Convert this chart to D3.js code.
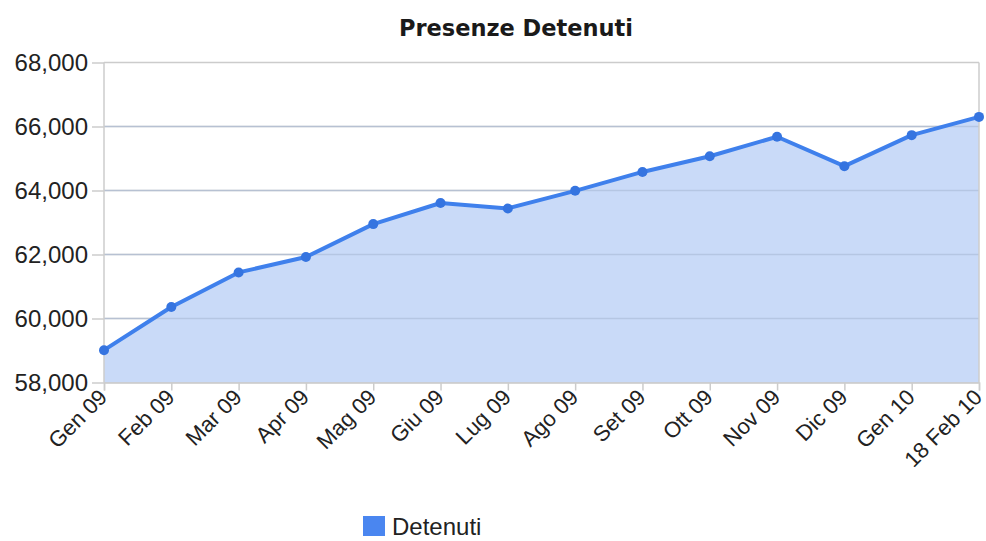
<!DOCTYPE html>
<html>
<head>
<meta charset="utf-8">
<script src="https://cdn.jsdelivr.net/npm/d3@7"></script>
<style>
  body { margin: 0; background: #fff; }
  text { font-family: "Liberation Sans", Arial, sans-serif; }
</style>
</head>
<body>
<div id="chart"></div>
<script>
// dati
const mesi = ["Gen 09", "Feb 09", "Mar 09", "Apr 09", "Mag 09", "Giu 09", "Lug 09",
              "Ago 09", "Set 09", "Ott 09", "Nov 09", "Dic 09", "Gen 10", "18 Feb 10"];
const detenuti = [59010, 60360, 61440, 61920, 62950, 63610, 63440,
                  63990, 64580, 65070, 65680, 64760, 65730, 66300];
const yTicks = [58000, 60000, 62000, 64000, 66000, 68000];

let width = 986;
let height = 541;
let margin = { left: 104, right: 7, top: 62.5, bottom: 158.5 };

let svg = d3.select("#chart")
    .append("svg")
    .attr("width", width)
    .attr("height", height);

let x = d3.scalePoint()
    .domain(mesi)
    .range([margin.left, width - margin.right]);

let y = d3.scaleLinear()
    .domain([58000, 68000])
    .range([height - margin.bottom, margin.top]);

// titolo
svg.append("text")
    .attr("x", 516)
    .attr("y", 36)
    .attr("text-anchor", "middle")
    .style("font-family", "'DejaVu Sans', sans-serif")
    .style("font-weight", "bold")
    .style("font-size", "22.5px")
    .attr("fill", "#1a1a1a")
    .text("Presenze Detenuti");

// griglia orizzontale
svg.append("g")
    .selectAll("line")
    .data(yTicks)
    .enter()
    .append("line")
    .attr("x1", margin.left)
    .attr("x2", width - margin.right)
    .attr("y1", d => y(d))
    .attr("y2", d => y(d))
    .attr("stroke", "#cccccc")
    .attr("stroke-width", 1.5);

// area
let area = d3.area()
    .x((d, i) => x(mesi[i]))
    .y0(y(58000))
    .y1(d => y(d));

svg.append("path")
    .datum(detenuti)
    .attr("d", area)
    .attr("fill", "#c9daf8");

// griglia sopra l'area
svg.append("g")
    .selectAll("line")
    .data(yTicks.slice(1, -1))
    .enter()
    .append("line")
    .attr("x1", margin.left)
    .attr("x2", width - margin.right)
    .attr("y1", d => y(d))
    .attr("y2", d => y(d))
    .attr("stroke", "#a9b9d6")
    .attr("stroke-opacity", 0.6)
    .attr("stroke-width", 1.5);

// bordi verticali
svg.append("line")
    .attr("x1", margin.left).attr("x2", margin.left)
    .attr("y1", margin.top).attr("y2", height - margin.bottom)
    .attr("stroke", "#cccccc").attr("stroke-width", 1.5);
svg.append("line")
    .attr("x1", width - margin.right).attr("x2", width - margin.right)
    .attr("y1", margin.top).attr("y2", height - margin.bottom)
    .attr("stroke", "#cccccc").attr("stroke-width", 1.5);

// asse y
let yAxis = svg.append("g")
    .attr("transform", "translate(" + margin.left + ",0)")
    .call(d3.axisLeft(y).tickValues(yTicks).tickSize(12).tickFormat(d3.format(",")));
yAxis.select(".domain").remove();
yAxis.selectAll("line").attr("stroke", "#cccccc").attr("stroke-width", 1.5);
yAxis.selectAll("text")
    .attr("x", -16)
    .attr("dy", "0.35em")
    .style("font-size", "24px")
    .attr("fill", "#222");

// asse x
let xAxis = svg.append("g")
    .attr("transform", "translate(0," + y(58000) + ")")
    .call(d3.axisBottom(x).tickSize(8));
xAxis.select(".domain").attr("stroke", "#cccccc").attr("stroke-width", 1.5);
xAxis.selectAll("line").attr("stroke", "#cccccc").attr("stroke-width", 1.5);
xAxis.selectAll("text")
    .style("font-size", "22px")
    .attr("fill", "#222")
    .attr("text-anchor", "end")
    .attr("dy", "0")
    .attr("x", 0)
    .attr("y", 0)
    .attr("transform", "translate(4,16) rotate(-45)");

// linea
let line = d3.line()
    .x((d, i) => x(mesi[i]))
    .y(d => y(d));

svg.append("path")
    .datum(detenuti)
    .attr("d", line)
    .attr("fill", "none")
    .attr("stroke", "#3f80ec")
    .attr("stroke-width", 4)
    .attr("stroke-linejoin", "round");

// punti
svg.selectAll("circle")
    .data(detenuti)
    .enter()
    .append("circle")
    .attr("cx", (d, i) => x(mesi[i]))
    .attr("cy", d => y(d))
    .attr("r", 5)
    .attr("fill", "#3574e0");

// legenda
svg.append("rect")
    .attr("x", 363)
    .attr("y", 516)
    .attr("width", 22)
    .attr("height", 20)
    .attr("fill", "#4a86f0");
svg.append("text")
    .attr("x", 392)
    .attr("y", 535)
    .style("font-size", "24px")
    .attr("fill", "#222")
    .text("Detenuti");
</script>
</body>
</html>
